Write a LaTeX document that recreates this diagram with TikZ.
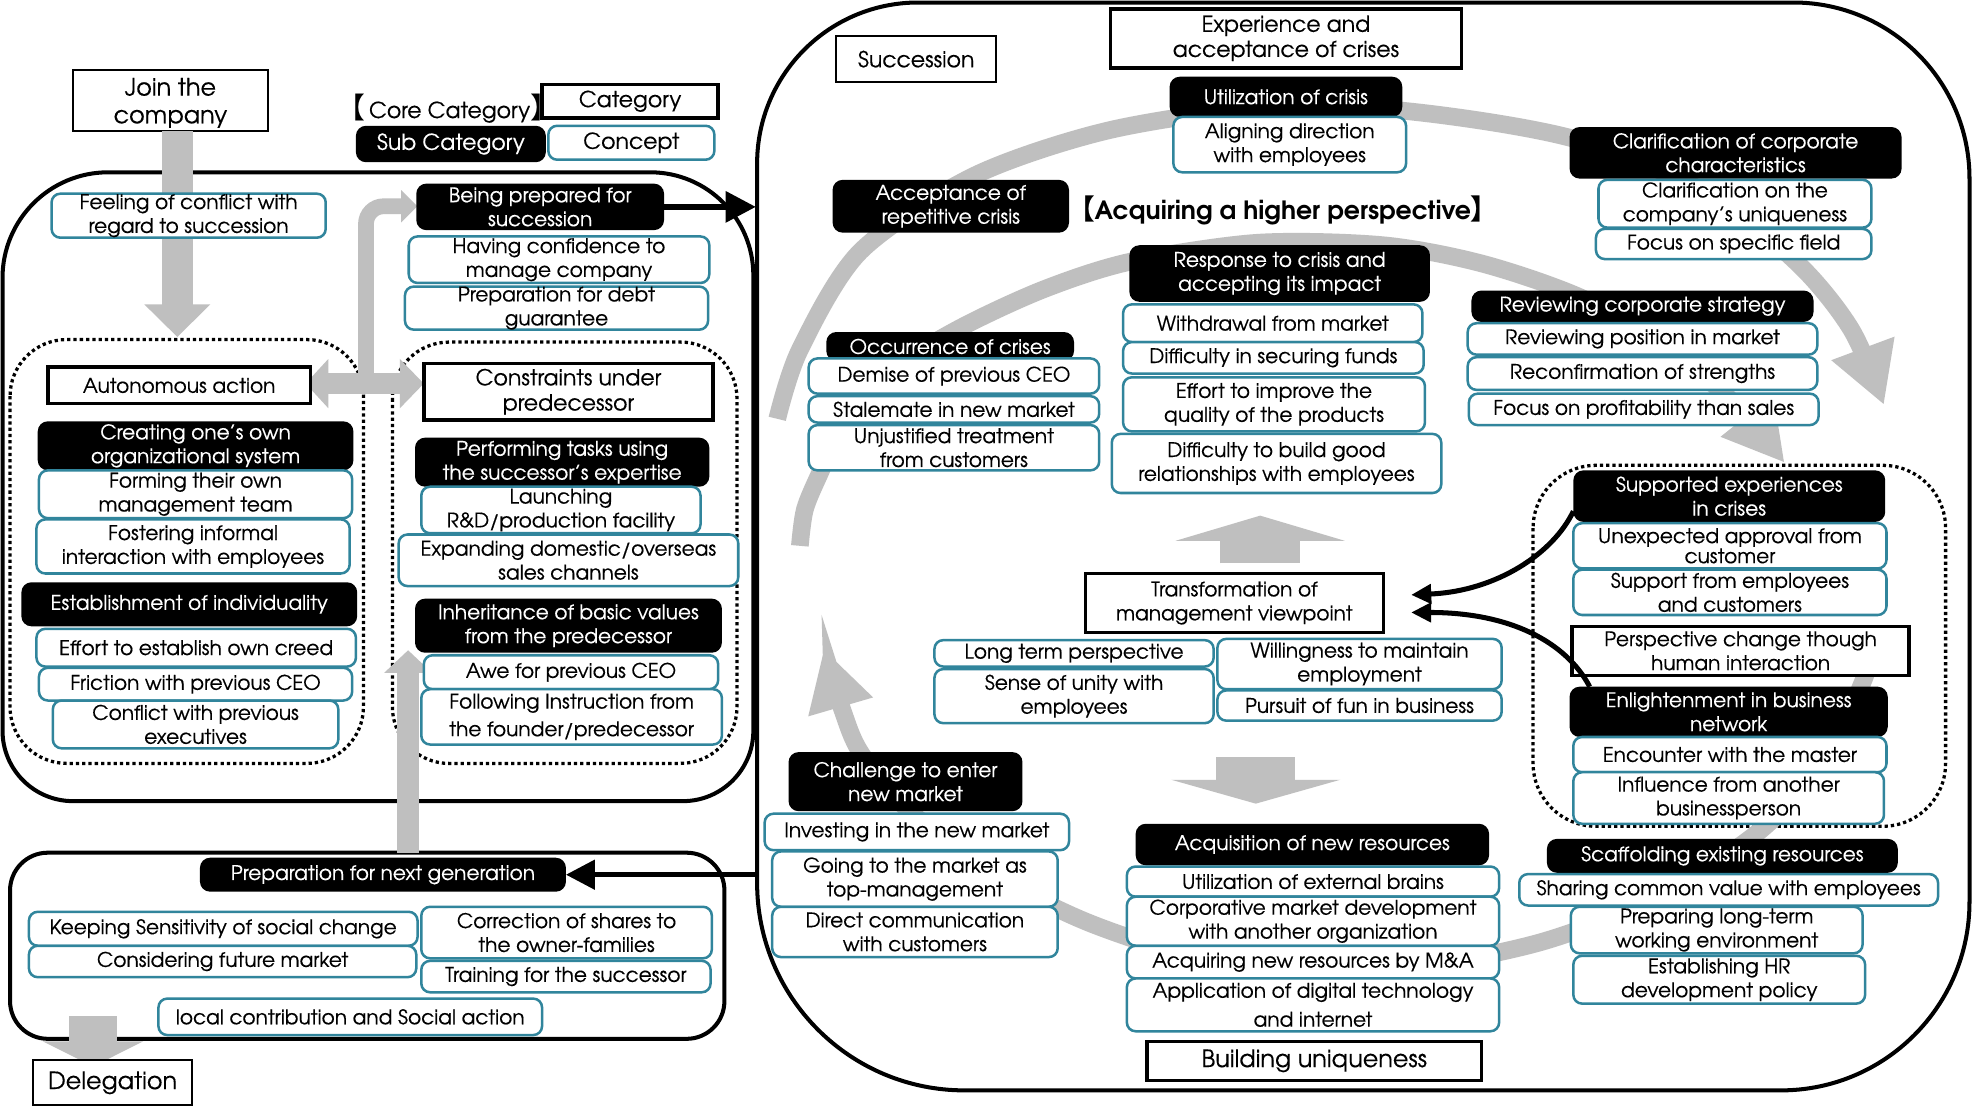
\documentclass[tikz,border=0pt]{standalone}
\usepackage{fontspec}
\setmainfont{texgyreadventor}[Extension=.otf, UprightFont=*-regular, BoldFont=*-bold, ItalicFont=*-italic, BoldItalicFont=*-bolditalic, UprightFeatures={FakeBold=0.35}]
\newfontfamily\cjk{Noto Sans CJK JP}
\usetikzlibrary{arrows.meta}
\definecolor{tealb}{HTML}{31859C}
\definecolor{gband}{HTML}{BFBFBF}
\newcommand\fs{\fontsize{16}{19}\selectfont}
\newcommand\fm{\fontsize{17.5}{20}\selectfont}
\newcommand\fl{\fontsize{19}{22}\selectfont}
\newcommand\mybox[7]{%
  \pgfmathsetmacro\bxw{#5-#3}\pgfmathsetmacro\bxh{#6-#4}%
  \pgfmathsetmacro\bxcx{(#3+#5)/2}\pgfmathsetmacro\bxcy{(#4+#6)/2}%
  \node[#1, minimum width=\bxw pt, minimum height=\bxh pt] (#2) at (\bxcx,\bxcy) {#7};}
\tikzset{
  base/.style={inner sep=0pt, outer sep=0pt, align=center, font=\fs},
  catA/.style={base, draw=black, line width=1.6pt, fill=white},
  catB/.style={base, draw=black, line width=2.8pt, fill=white},
  subc/.style={base, fill=black, text=white, rounded corners=8pt},
  conc/.style={base, draw=tealb, line width=2pt, fill=white, rounded corners=7pt},
  bigline/.style={line width=3.2pt, draw=black},
  dotbox/.style={line width=2.6pt, dash pattern=on 2.6pt off 2.4pt, rounded corners=45pt},
  garc/.style={draw=gband, line width=14pt, -{Triangle[length=48pt,width=50pt]}},
  blk/.style={draw=black, line width=4.5pt}
}
\begin{document}
\begin{tikzpicture}[x=1pt,y=-1pt]
\useasboundingbox[fill=white] (0,0) rectangle (1568,880);
% ---------- frames
\draw[bigline] (2,221) .. controls (2,174.6) and (39.6,137) .. (86,137) -- (517,137)
  .. controls (562.3,137) and (599,173.7) .. (599,219) -- (599,581)
  .. controls (599,611.9) and (573.9,637) .. (543,637) -- (58,637)
  .. controls (27.1,637) and (2,611.9) .. (2,581) -- cycle;
\draw[bigline] (602,130) .. controls (602,59.3) and (659.3,2) .. (730,2) -- (1426,2)
  .. controls (1503.3,2) and (1566,64.7) .. (1566,142) -- (1566,717)
  .. controls (1566,799.8) and (1498.8,867) .. (1416,867) -- (767,867)
  .. controls (675.9,867) and (602,793.1) .. (602,702) -- cycle;
\draw[bigline, rounded corners=30pt] (8,678) rectangle (576,826);
\draw[dotbox] (8,270) rectangle (289,607);
\draw[dotbox] (312,272) rectangle (586,607);
\draw[dotbox, rounded corners=50pt] (1219,370) rectangle (1547,657);
% ---------- gray cycle arcs
\draw[garc] plot[smooth] coordinates {(618,333) (636,278) (684,200) (774,140) (880,104) (1000,86) (1115,88) (1250,110) (1360,155) (1430,210) (1472,262) (1498,322)};
\draw[garc] plot[smooth] coordinates {(636,434) (640,405) (652,376) (672,334) (706,296) (763,261) (830,230) (899,208) (1000,193) (1100,195) (1180,210) (1260,238) (1330,280) (1378,320) (1419,368)};
\draw[garc] plot[smooth] coordinates {(1492,512) (1480,545) (1455,600) (1400,660) (1320,712) (1222,750) (1100,772) (980,768) (869,735) (780,690) (718,640) (684,598) (670,565) (655,516)};
% ---------- join box and gray block arrows
\mybox{catA, font=\fl, text depth=0pt}{join}{58}{56}{213}{104}{Join the\\company}
\coordinate (jtip) at (141,268);
\coordinate (ba1) at (243,305);
\coordinate (ba2) at (337,305);
\coordinate (bam) at (291,305);
\coordinate (ltip) at (332,164);
\coordinate (ubot) at (324.5,678);
\coordinate (utip) at (324.5,517);
\coordinate (dtop) at (74,808);
\coordinate (dtip) at (74,848);
\coordinate (mubot) at (1002,448);
\coordinate (mutip) at (1002,410);
\coordinate (mdtop) at (998.5,602);
\coordinate (mdtip) at (998.5,639);
\draw[draw=gband, line width=25pt, -{Triangle[length=26pt,width=51pt]}] (jtip |- join.south) -- (jtip);
\draw[draw=gband, line width=12.5pt, rounded corners=14pt, -{Triangle[length=13pt,width=25pt]}] (bam) |- (ltip);
\draw[draw=gband, line width=17pt, {Triangle[length=18pt,width=38pt]}-{Triangle[length=19pt,width=38pt]}] (ba1) -- (ba2);
\draw[draw=gband, line width=17pt, -{Triangle[length=18pt,width=37pt]}] (ubot) -- (utip);
\draw[draw=gband, line width=38pt, -{Triangle[length=20pt,width=79pt]}] (dtop) -- (dtip);
\draw[draw=gband, line width=64pt, -{Triangle[length=20pt,width=134pt]}] (mubot) -- (mutip);
\draw[draw=gband, line width=63pt, -{Triangle[length=19pt,width=134pt]}] (mdtop) -- (mdtip);
% ---------- legend
\node[base, font=\fm] (legcore) at (356,86) {{\cjk\fontsize{23}{23}\selectfont 【}\,Core Category{\cjk\fontsize{23}{23}\selectfont 】}};
\mybox{catB, font=\fm}{legcat}{431}{67}{571}{94}{Category}
\mybox{subc, font=\fm}{legsub}{283}{100}{434}{129}{Sub Category}
\mybox{conc, font=\fm}{legcon}{436}{100}{568}{127}{Concept}
% ---------- left region
\mybox{conc}{feel}{41}{154}{259}{189}{Feeling of conflict with\\regard to succession}
\mybox{catB}{auto}{38}{292}{247}{321}{Autonomous action}
\mybox{subc}{creat}{30}{335}{281}{374}{Creating one’s own\\organizational system}
\mybox{conc}{form}{31}{374}{280}{412}{Forming their own\\management team}
\mybox{conc}{fost}{29}{413}{278}{456}{Fostering informal\\interaction with employees}
\mybox{subc}{estab}{17}{463}{284}{498}{Establishment of individuality}
\mybox{conc}{effort}{29}{500}{283}{530}{Effort to establish own creed}
\mybox{conc}{fric}{31}{531}{280}{557}{Friction with previous CEO}
\mybox{conc}{confl}{42}{557}{269}{595}{Conflict with previous\\executives}
\mybox{subc}{prep}{331}{146}{528}{183}{Being prepared for\\succession}
\mybox{conc}{conf}{325}{188}{564}{225}{Having confidence to\\manage company}
\mybox{conc}{debt}{322}{228}{563}{262}{Preparation for debt\\guarantee}
\mybox{catB, font=\fm}{constr}{337}{289}{567}{334}{Constraints under\\predecessor}
\mybox{subc}{perf}{330}{348}{564}{387}{Performing tasks using\\the successor’s expertise}
\mybox{conc}{launch}{335}{387}{557}{424}{Launching\\R\&D/production facility}
\mybox{conc}{expand}{317}{425}{587}{466}{Expanding domestic/overseas\\sales channels}
\mybox{subc}{inher}{330}{476}{574}{519}{Inheritance of basic values\\from the predecessor}
\mybox{conc}{awe}{337}{521}{571}{548}{Awe for previous CEO}
\mybox{conc, font=\fontsize{16}{22}\selectfont}{follow}{335}{548}{574}{592}{Following Instruction from\\the founder/predecessor}
% ---------- bottom region
\mybox{subc}{nextgen}{159}{682}{450}{709}{Preparation for next generation}
\mybox{conc}{keep}{23}{725}{332}{752}{Keeping Sensitivity of social change}
\mybox{conc}{consid}{23}{752}{331}{777}{Considering future market}
\mybox{conc}{corr}{335}{721}{566}{762}{Correction of shares to\\the owner-families}
\mybox{conc}{train}{335}{764}{565}{789}{Training for the successor}
\mybox{conc}{local}{126}{794}{431}{823}{local contribution and Social action}
\mybox{catA, font=\fl}{deleg}{26}{843}{153}{879}{Delegation}
% ---------- succession region
\mybox{catA, font=\fm}{succ}{665}{29}{792}{65}{Succession}
\mybox{catB, font=\fm}{exper}{883}{7}{1162}{54}{Experience and\\acceptance of crises}
\mybox{subc}{util}{930}{61}{1115}{93}{Utilization of crisis}
\mybox{conc}{align}{933}{93}{1118}{137}{Aligning direction\\with employees}
\mybox{subc}{accept}{662}{143}{850}{185}{Acceptance of\\repetitive crisis}
\node[base, font=\bfseries\fontsize{20}{22}\selectfont] (acq) at (1020,167) {{\cjk\bfseries\fontsize{22}{22}\selectfont 【}Acquiring a higher perspective{\cjk\bfseries\fontsize{22}{22}\selectfont 】}};
\mybox{subc}{resp}{898}{195}{1137}{240}{Response to crisis and\\accepting its impact}
\mybox{conc}{withd}{893}{242}{1131}{272}{Withdrawal from market}
\mybox{conc}{funds}{893}{272}{1132}{297}{Difficulty in securing funds}
\mybox{conc}{quality}{893}{300}{1133}{343}{Effort to improve the\\quality of the products}
\mybox{conc}{relat}{884}{345}{1146}{392}{Difficulty to build good\\relationships with employees}
\mybox{subc}{occur}{657}{264}{854}{287}{Occurrence of crises}
\mybox{conc}{demise}{643}{285}{874}{313}{Demise of previous CEO}
\mybox{conc}{stale}{643}{315}{874}{336}{Stalemate in new market}
\mybox{conc}{unjust}{643}{338}{874}{374}{Unjustified treatment\\from customers}
\mybox{catB}{trans}{863}{456}{1100}{503}{Transformation of\\management viewpoint}
\mybox{conc}{longt}{743}{509}{965}{530}{Long term perspective}
\mybox{conc}{unity}{743}{532}{965}{575}{Sense of unity with\\employees}
\mybox{conc}{willing}{968}{508}{1194}{548}{Willingness to maintain\\employment}
\mybox{conc}{fun}{968}{549}{1194}{573}{Pursuit of fun in business}
\mybox{subc}{chall}{627}{598}{813}{645}{Challenge to enter\\new market}
\mybox{conc}{invest}{608}{647}{850}{676}{Investing in the new market}
\mybox{conc}{going}{614}{677}{841}{721}{Going to the market as\\top-management}
\mybox{conc}{direct}{614}{721}{841}{761}{Direct communication\\with customers}
\mybox{subc}{acqres}{903}{655}{1184}{688}{Acquisition of new resources}
\mybox{conc}{brains}{896}{689}{1192}{713}{Utilization of external brains}
\mybox{conc}{corpo}{896}{713}{1192}{752}{Corporative market development\\with another organization}
\mybox{conc}{manda}{896}{752}{1192}{778}{Acquiring new resources by M\&A}
\mybox{conc, font=\fontsize{16}{23}\selectfont}{digit}{896}{778}{1192}{820}{Application of digital technology\\and internet}
\mybox{catB, font=\fl}{build}{912}{828}{1178}{859}{Building uniqueness}
\mybox{subc}{clar}{1248}{101}{1512}{142}{Clarification of corporate\\characteristics}
\mybox{conc}{uniq}{1271}{143}{1488}{181}{Clarification on the\\company's uniqueness}
\mybox{conc}{field}{1269}{182}{1488}{206}{Focus on specific field}
\mybox{subc}{review}{1170}{231}{1442}{256}{Reviewing corporate strategy}
\mybox{conc}{posit}{1167}{257}{1445}{282}{Reviewing position in market}
\mybox{conc}{streng}{1167}{284}{1445}{310}{Reconfirmation of strengths}
\mybox{conc}{profit}{1168}{313}{1446}{338}{Focus on profitability than sales}
\mybox{subc}{supp}{1251}{374}{1499}{415}{Supported experiences\\in crises}
\mybox{conc, font=\fontsize{16}{16}\selectfont}{unexp}{1251}{416}{1500}{452}{Unexpected approval from\\customer}
\mybox{conc}{suppemp}{1251}{453}{1500}{489}{Support from employees\\and customers}
\mybox{catB}{persp}{1250}{498}{1518}{537}{Perspective change though\\human interaction}
\mybox{subc}{enl}{1248}{546}{1501}{586}{Enlightenment in business\\network}
\mybox{conc}{master}{1251}{586}{1500}{614}{Encounter with the master}
\mybox{conc}{influ}{1251}{614}{1498}{655}{Influence from another\\businessperson}
\mybox{subc}{scaff}{1230}{667}{1509}{694}{Scaffolding existing resources}
\mybox{conc}{share}{1208}{695}{1541}{720}{Sharing common value with employees}
\mybox{conc}{prepl}{1249}{721}{1481}{758}{Preparing long-term\\working environment}
\mybox{conc}{hr}{1251}{760}{1483}{798}{Establishing HR\\development policy}
% ---------- black connectors
\coordinate (sL) at (601,0);
\draw[blk, -{Triangle[length=24pt,width=24pt]}] (prep.east) -- (prep.east -| sL);
\draw[draw=black, line width=4pt, -{Triangle[length=23pt,width=23pt]}] (nextgen.east -| sL) -- (nextgen.east);
\draw[draw=black, line width=4pt, -{Triangle[length=16pt,width=15pt]}] ([yshift=-12pt]supp.west) .. controls (1235,440) and (1190,470) .. ([xshift=22pt,yshift=6.5pt]trans.east);
\draw[draw=black, line width=4pt, -{Triangle[length=16pt,width=15pt]}] ([xshift=16pt]enl.north west) .. controls (1245,510) and (1200,487) .. ([xshift=22pt,yshift=-7.5pt]trans.east);
\end{tikzpicture}
\end{document}
